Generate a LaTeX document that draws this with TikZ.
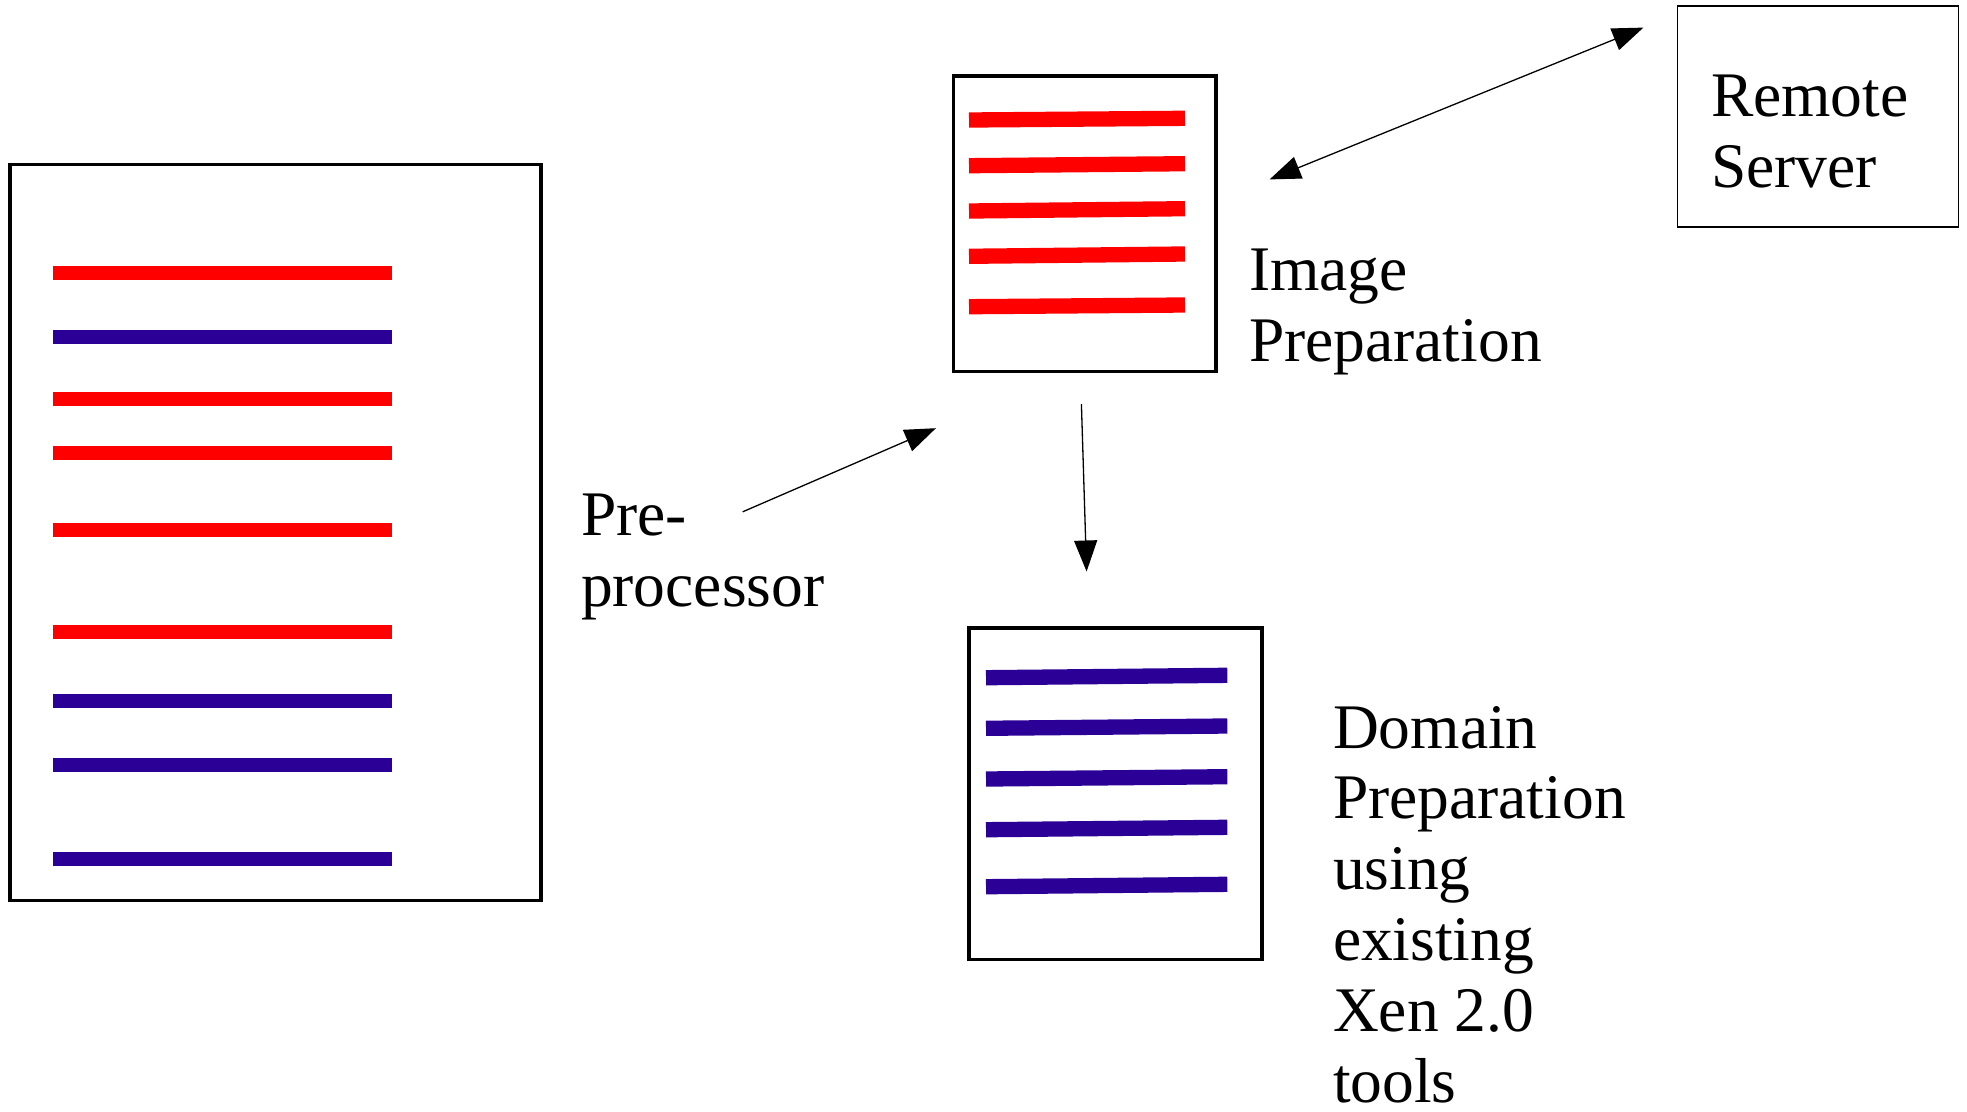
\documentclass[tikz,border=0pt]{standalone}
\usepackage{fontspec}
\setmainfont{Liberation Serif}
\usetikzlibrary{arrows.meta}
\definecolor{docred}{RGB}{255,0,0}
\definecolor{docblue}{RGB}{42,0,150}
\begin{document}
\begin{tikzpicture}[x=1pt,y=-1pt,
  docbox/.style={draw=black, line width=3.5pt, inner sep=0pt, outer sep=0pt},
  serverbox/.style={draw=black, line width=1.4pt, inner sep=0pt, outer sep=0pt},
  redbar/.style={draw=docred, line width=#1, line cap=butt},
  bluebar/.style={draw=docblue, line width=#1, line cap=butt},
  lbl/.style={inner sep=0pt, outer sep=0pt, anchor=base west, align=left,
    font=\fontsize{63.5}{70.8}\selectfont},
  arr/.style={draw=black, line width=1.3pt,
    -{Triangle[length=31pt,width=23pt]}},
  darr/.style={draw=black, line width=1.3pt,
    {Triangle[length=31pt,width=23pt]}-{Triangle[length=31pt,width=23pt]}}
]
\useasboundingbox (0,0) rectangle (1967,1111);

% left document
\node[docbox, minimum width=530.7pt, minimum height=736.4pt] (src) at (275.4,532.5) {};
\foreach \y/\c in {272.5/docred, 336.5/docblue, 399/docred, 453/docred, 530/docred,
                   632/docred, 701/docblue, 765/docblue, 858.5/docblue}
  \draw[draw=\c, line width=14pt] (52.8,\y) -- (391.5,\y);

% image preparation document
\node[docbox, minimum width=262.6pt, minimum height=295.5pt] (img) at (1084.7,223.8) {};
\foreach \a/\b in {120/118.3, 165.7/163.7, 211/208.7, 256.3/254, 306.7/305}
  \draw[redbar=15.3pt] (969,\a) -- (1185,\b);

% domain preparation document
\node[docbox, minimum width=293pt, minimum height=331.5pt] (dom) at (1115.6,793.8) {};
\foreach \a/\b in {677.7/675.3, 728.3/726, 779/776.7, 829.7/827.3, 886.7/884.3}
  \draw[bluebar=15.3pt] (986,\a) -- (1227.3,\b);

% remote server
\node[serverbox, minimum width=281pt, minimum height=221pt] (srv) at (1817.7,116.6) {};
\node[lbl] (srvtext) at (1711,187.5) {Remote\\Server};

% labels (anchor = baseline of last line)
\node[lbl] (imgtext) at (1249,361.3) {Image\\Preparation};
\node[lbl] (pretext) at (581,606.3) {Pre-\\processor};
\node[lbl] (domtext) at (1333,1102) {Domain\\Preparation\\using\\existing\\Xen 2.0\\tools};

% connectors
\coordinate (preA) at (742.7,511.8);
\coordinate (preB) at (935.9,428.2);
\coordinate (downA) at (1081.4,404);
\coordinate (downB) at (1086.6,571.5);
\coordinate (remA) at (1269.6,179.4);
\coordinate (remB) at (1643.4,27.6);

\draw[arr] (preA) -- (preB);
\draw[arr] (downA) -- (downB);
\draw[darr] (remA) -- (remB);
\end{tikzpicture}
\end{document}
